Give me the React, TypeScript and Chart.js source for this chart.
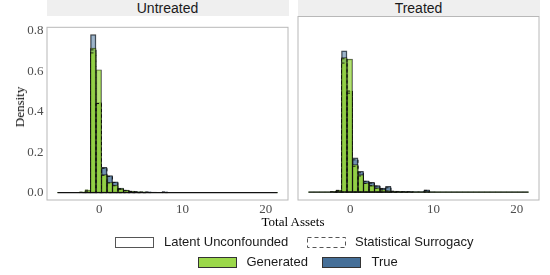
import React, { useEffect, useRef } from "react";
import { Chart, registerables } from "chart.js";

Chart.register(...registerables);

// ---------- data ----------
const binCenters = [
  -4.67, -4.01, -3.35, -2.69, -2.03, -1.37, -0.71, -0.05, 0.61, 1.27,
  1.93, 2.59, 3.25, 3.91, 4.57, 5.23, 5.89, 6.55, 7.21, 7.87,
  8.53, 9.19, 9.85, 10.51, 11.17, 11.83, 12.49, 13.15, 13.81, 14.47,
  15.13, 15.79, 16.45, 17.11, 17.77, 18.43, 19.09, 19.75, 20.41, 21.07,
];
const baselineStart = -5.0;
const baselineEnd = 21.4;

const panelTitles = ["Untreated", "Treated"];
const xTicks = [0, 10, 20];
const yTicks = [0, 0.2, 0.4, 0.6, 0.8];

// Untreated
const untreatedLatentGenerated = [
  0, 0, 0, 0, 0.002, 0.01, 0.714, 0.607, 0.089, 0.05,
  0.037, 0.018, 0.01, 0.006, 0.003, 0.002, 0.001, 0, 0, 0,
  0, 0, 0, 0, 0, 0, 0, 0, 0, 0, 0, 0, 0, 0, 0, 0, 0, 0, 0, 0,
];
const untreatedSurrogacyGenerated = [
  0, 0, 0, 0, 0.002, 0.012, 0.69, 0.44, 0.085, 0.048,
  0.034, 0.017, 0.009, 0.005, 0.003, 0.002, 0.001, 0, 0, 0,
  0, 0, 0, 0, 0, 0, 0, 0, 0, 0, 0, 0, 0, 0, 0, 0, 0, 0, 0, 0,
];
const untreatedLatentTrue = [
  0, 0, 0, 0, 0, 0.004, 0.78, 0.445, 0.125, 0.084,
  0.053, 0.022, 0.012, 0.007, 0.004, 0.003, 0.004, 0.002, 0.001, 0.004,
  0.001, 0, 0, 0, 0, 0, 0, 0, 0, 0, 0, 0, 0, 0, 0, 0, 0, 0, 0, 0,
];
const untreatedSurrogacyTrue = [
  0, 0, 0, 0, 0, 0.004, 0.705, 0.44, 0.12, 0.08,
  0.05, 0.02, 0.011, 0.006, 0.004, 0.002, 0.003, 0.001, 0.001, 0.003,
  0, 0, 0, 0, 0, 0, 0, 0, 0, 0, 0, 0, 0, 0, 0, 0, 0, 0, 0, 0,
];

// Treated
const treatedLatentGenerated = [
  0, 0, 0, 0, 0.002, 0.01, 0.626, 0.619, 0.128, 0.081,
  0.043, 0.03, 0.02, 0.012, 0.006, 0.004, 0.002, 0.001, 0, 0,
  0, 0, 0, 0, 0, 0, 0, 0, 0, 0, 0, 0, 0, 0, 0, 0, 0, 0, 0, 0,
];
const treatedSurrogacyGenerated = [
  0, 0, 0, 0, 0.002, 0.008, 0.6, 0.47, 0.12, 0.075,
  0.04, 0.03, 0.018, 0.01, 0.005, 0.003, 0.001, 0, 0, 0,
  0, 0, 0, 0, 0, 0, 0, 0, 0, 0, 0, 0, 0, 0, 0, 0, 0, 0, 0, 0,
];
const treatedLatentTrue = [
  0, 0, 0, 0, 0, 0.005, 0.657, 0.47, 0.159, 0.097,
  0.053, 0.045, 0.03, 0.019, 0.027, 0.005, 0.004, 0.003, 0.002, 0.002,
  0.002, 0.011, 0.001, 0, 0, 0, 0, 0, 0, 0, 0, 0, 0, 0, 0, 0, 0, 0, 0, 0,
];
const treatedSurrogacyTrue = [
  0, 0, 0, 0, 0, 0.004, 0.62, 0.46, 0.15, 0.09,
  0.05, 0.042, 0.028, 0.016, 0.02, 0.004, 0.003, 0.002, 0.002, 0.001,
  0.001, 0.008, 0, 0, 0, 0, 0, 0, 0, 0, 0, 0, 0, 0, 0, 0, 0, 0, 0, 0,
];

// ---------- styles ----------
const SERIF = '"Liberation Serif", "Times New Roman", serif';
const SANS = '"Liberation Sans", Arial, sans-serif';
const GEN_SOLID = "#9bd84a";
const TRUE_SOLID = "#456f98";
const GEN_FILL = "rgba(150, 214, 62, 0.72)";
const TRUE_FILL = "rgba(69, 111, 152, 0.52)";
const OUTLINE = "rgba(15, 15, 15, 0.8)";
const PANEL_BORDER = "#b8b8b8";

const X_MIN = -6.32;
const X_MAX = 22.72;
const Y_MIN = -0.039;
const Y_MAX = 0.819;

const dashedOutline = {
  id: "dashedOutline",
  afterDatasetsDraw(chart: any) {
    const ctx = chart.ctx;
    const area = chart.chartArea;
    ctx.save();
    ctx.beginPath();
    ctx.rect(area.left, area.top, area.right - area.left, area.bottom - area.top);
    ctx.clip();
    chart.data.datasets.forEach((ds: any, i: number) => {
      if (!ds.dashedOutline) return;
      const meta = chart.getDatasetMeta(i);
      ctx.setLineDash([3, 2.5]);
      ctx.strokeStyle = "rgba(15, 15, 15, 0.85)";
      ctx.lineWidth = 1;
      meta.data.forEach((el: any) => {
        const p = el.getProps(["x", "y", "base", "width"], true);
        if (Math.abs(p.base - p.y) < 0.4) return;
        ctx.strokeRect(p.x - p.width / 2, p.y, p.width, p.base - p.y);
      });
    });
    ctx.restore();
  },
};

const panelBorder = {
  id: "panelBorder",
  afterDraw(chart: any) {
    const { left, top, right, bottom } = chart.chartArea;
    const ctx = chart.ctx;
    ctx.save();
    ctx.strokeStyle = PANEL_BORDER;
    ctx.lineWidth = 1;
    ctx.strokeRect(left + 0.5, top + 0.5, right - left - 1, bottom - top - 1);
    ctx.restore();
  },
};

function pts(vals: number[]) {
  return binCenters.map((x, i) => ({ x, y: vals[i] }));
}

function barSet(label: string, vals: number[], fill: string, dashed: boolean) {
  return {
    type: "bar" as const,
    label,
    data: pts(vals),
    backgroundColor: fill,
    borderColor: OUTLINE,
    borderWidth: dashed ? 0 : 0.8,
    borderSkipped: false,
    grouped: false,
    barPercentage: 1,
    categoryPercentage: 1,
    dashedOutline: dashed,
  };
}

type PanelProps = {
  left: number;
  width: number;
  showY: boolean;
  padLeft: number;
  padRight: number;
  yAxisWidth: number;
  latentGen: number[];
  surrGen: number[];
  latentTrue: number[];
  surrTrue: number[];
};

const CANVAS_TOP = 15.5;
const CANVAS_H = 200;
const X_AXIS_H = 15.5;

function Panel(props: PanelProps) {
  const ref = useRef<HTMLCanvasElement | null>(null);
  useEffect(() => {
    if (!ref.current) return;
    const chart = new Chart(ref.current, {
      type: "bar",
      data: {
        datasets: [
          {
            type: "line",
            label: "baseline",
            data: [
              { x: baselineStart, y: 0 },
              { x: baselineEnd, y: 0 },
            ],
            borderColor: "#111111",
            borderWidth: 1.3,
            pointRadius: 0,
          } as any,
          barSet("Latent Generated", props.latentGen, GEN_FILL, false),
          barSet("Surrogacy Generated", props.surrGen, GEN_FILL, true),
          barSet("Latent True", props.latentTrue, TRUE_FILL, false),
          barSet("Surrogacy True", props.surrTrue, TRUE_FILL, true),
        ],
      },
      options: {
        responsive: false,
        animation: false,
        layout: { padding: { left: props.padLeft, right: props.padRight, top: 0, bottom: 0 } },
        plugins: { legend: { display: false }, tooltip: { enabled: false }, title: { display: false } },
        scales: {
          x: {
            type: "linear",
            offset: false,
            min: X_MIN,
            max: X_MAX,
            grid: { display: false, drawTicks: false, offset: false },
            border: { display: false },
            ticks: {
              color: "#4d4d4d",
              font: { family: SERIF, size: 13 },
              padding: 1,
              maxRotation: 0,
            },
            afterBuildTicks: (scale: any) => {
              scale.ticks = xTicks.map((v) => ({ value: v }));
            },
            afterFit: (scale: any) => {
              scale.height = X_AXIS_H;
            },
          },
          y: {
            type: "linear",
            min: Y_MIN,
            max: Y_MAX,
            display: props.showY,
            grid: { display: false, drawTicks: false },
            border: { display: false },
            ticks: {
              color: "#4d4d4d",
              font: { family: SERIF, size: 13 },
              padding: 3,
              callback: (v: any) => Number(v).toFixed(1),
            },
            afterBuildTicks: (scale: any) => {
              scale.ticks = yTicks.map((v) => ({ value: v }));
            },
            afterFit: (scale: any) => {
              scale.width = props.yAxisWidth;
            },
          },
        },
      } as any,
      plugins: [dashedOutline, panelBorder],
    });
    return () => chart.destroy();
  }, []);
  return (
    <canvas
      ref={ref}
      width={props.width}
      height={CANVAS_H}
      style={{
        position: "absolute",
        left: props.left,
        top: CANVAS_TOP,
        width: props.width,
        height: CANVAS_H,
      }}
    />
  );
}

function Strip({ left, width, text }: { left: number; width: number; text: string }) {
  return (
    <div
      style={{
        position: "absolute",
        left,
        top: 0,
        width,
        height: 15.5,
        background: "#efefef",
        fontFamily: SANS,
        fontSize: 14,
        lineHeight: "16px",
        color: "#1a1a1a",
        textAlign: "center",
      }}
    >
      {text}
    </div>
  );
}

function LegendBox({ left, top, fill, stroke, dashed }: { left: number; top: number; fill: string; stroke: string; dashed?: boolean }) {
  return (
    <svg style={{ position: "absolute", left, top }} width={40} height={12}>
      <rect
        x={0.5}
        y={0.5}
        width={38}
        height={10}
        fill={fill}
        stroke={stroke}
        strokeWidth={1}
        strokeDasharray={dashed ? "4 3" : undefined}
      />
    </svg>
  );
}

function LegendText({ left, top, text }: { left: number; top: number; text: string }) {
  return (
    <div
      style={{
        position: "absolute",
        left,
        top,
        fontFamily: SANS,
        fontSize: 13,
        lineHeight: "14px",
        color: "#1a1a1a",
        whiteSpace: "nowrap",
      }}
    >
      {text}
    </div>
  );
}

export default function App() {
  return (
    <div
      style={{
        position: "fixed",
        left: 0,
        top: 0,
        width: 550,
        height: 275,
        background: "#ffffff",
        overflow: "hidden",
      }}
    >
      <Strip left={46.5} width={242} text={panelTitles[0]} />
      <Strip left={297.5} width={242} text={panelTitles[1]} />
      <Panel
        left={0}
        width={290}
        showY={true}
        padLeft={0}
        padRight={1.5}
        yAxisWidth={46.5}
        latentGen={untreatedLatentGenerated}
        surrGen={untreatedSurrogacyGenerated}
        latentTrue={untreatedLatentTrue}
        surrTrue={untreatedSurrogacyTrue}
      />
      <Panel
        left={290}
        width={260}
        showY={false}
        padLeft={7.5}
        padRight={10.5}
        yAxisWidth={0}
        latentGen={treatedLatentGenerated}
        surrGen={treatedSurrogacyGenerated}
        latentTrue={treatedLatentTrue}
        surrTrue={treatedSurrogacyTrue}
      />
      <div
        style={{
          position: "absolute",
          left: 20,
          top: 107,
          transform: "translate(-50%, -50%) rotate(-90deg)",
          fontFamily: SERIF,
          fontSize: 13,
          color: "#000",
          whiteSpace: "nowrap",
        }}
      >
        Density
      </div>
      <div
        style={{
          position: "absolute",
          left: 293,
          top: 221.5,
          transform: "translate(-50%, -50%)",
          fontFamily: SERIF,
          fontSize: 13,
          color: "#000",
          whiteSpace: "nowrap",
        }}
      >
        Total Assets
      </div>
      <LegendBox left={114.5} top={236.5} fill="#ffffff" stroke="#555555" />
      <LegendText left={164} top={234.5} text="Latent Unconfounded" />
      <LegendBox left={306.5} top={236.5} fill="#ffffff" stroke="#555555" dashed />
      <LegendText left={355} top={234.5} text="Statistical Surrogacy" />
      <LegendBox left={197.5} top={256.5} fill={GEN_SOLID} stroke="#333333" />
      <LegendText left={246.5} top={254.5} text="Generated" />
      <LegendBox left={322} top={256.5} fill={TRUE_SOLID} stroke="#333333" />
      <LegendText left={371.5} top={254.5} text="True" />
    </div>
  );
}
